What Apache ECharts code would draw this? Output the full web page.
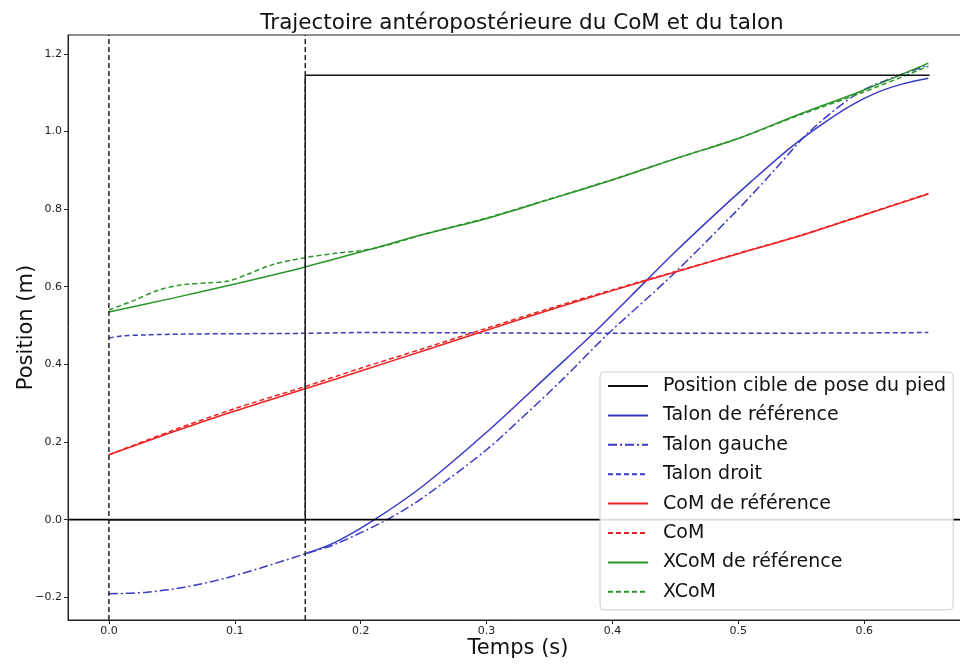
<!DOCTYPE html>
<html>
<head>
<meta charset="utf-8">
<script src="https://cdn.jsdelivr.net/npm/echarts@6/dist/echarts.min.js"></script>
<style>html,body{margin:0;padding:0;background:#fff;overflow:hidden;}#c{width:960px;height:665px;}</style>
</head>
<body>
<div id="c"></div>
<script>
// ---- data ----
const xTicks = [0, 0.1, 0.2, 0.3, 0.4, 0.5, 0.6];
const yTicks = [-0.2, 0, 0.2, 0.4, 0.6, 0.8, 1.0, 1.2];
const xRange = [-0.0325, 0.6825];
const yRange = [-0.2585, 1.2485];
const phaseTimes = [0, 0.156];

const tTarget = [0, 0.156, 0.156, 0.652];
const posTarget = [0, 0, 1.145, 1.145];

const tHeelRef = [0.156, 0.18, 0.211, 0.25, 0.3, 0.35, 0.385, 0.415, 0.45, 0.48, 0.51, 0.541, 0.565, 0.589, 0.61, 0.63, 0.651];
const heelRef = [-0.088, -0.058, 0.0, 0.088, 0.225, 0.375, 0.48, 0.577, 0.69, 0.782, 0.87, 0.957, 1.015, 1.066, 1.1, 1.122, 1.137];

const tHeelLeft = [0, 0.03, 0.06, 0.09, 0.12, 0.156, 0.18, 0.221, 0.25, 0.3, 0.329, 0.36, 0.397, 0.446, 0.5, 0.53, 0.556, 0.594, 0.62, 0.651];
const heelLeft = [-0.191, -0.187, -0.174, -0.153, -0.125, -0.088, -0.063, 0.0, 0.058, 0.18, 0.265, 0.36, 0.48, 0.625, 0.8, 0.905, 0.998, 1.097, 1.135, 1.171];

const tHeelRight = [0, 0.01, 0.03, 0.06, 0.1, 0.156, 0.2, 0.3, 0.4, 0.5, 0.6, 0.651];
const heelRight = [0.468, 0.473, 0.476, 0.478, 0.479, 0.480, 0.482, 0.481, 0.480, 0.480, 0.481, 0.482];

const tCom = [0, 0.05, 0.1, 0.156, 0.2, 0.25, 0.3, 0.35, 0.4, 0.45, 0.5, 0.55, 0.6, 0.651];
const comRef = [0.167, 0.225, 0.28, 0.337, 0.383, 0.435, 0.488, 0.54, 0.59, 0.638, 0.685, 0.732, 0.785, 0.839];
const com = [0.167, 0.229, 0.286, 0.343, 0.39, 0.441, 0.493, 0.544, 0.592, 0.639, 0.686, 0.733, 0.786, 0.84];

const tXcomRef = [0, 0.05, 0.1, 0.156, 0.215, 0.25, 0.3, 0.35, 0.4, 0.43, 0.454, 0.5, 0.549, 0.6, 0.651];
const xcomRef = [0.535, 0.57, 0.607, 0.651, 0.703, 0.735, 0.776, 0.825, 0.875, 0.908, 0.934, 0.982, 1.045, 1.107, 1.176];

const tXcom = [0, 0.02, 0.04, 0.06, 0.08, 0.095, 0.11, 0.13, 0.156, 0.18, 0.2, 0.22, 0.25, 0.3, 0.35, 0.4, 0.45, 0.5, 0.55, 0.6, 0.651];
const xcom = [0.54, 0.565, 0.592, 0.606, 0.61, 0.615, 0.632, 0.657, 0.675, 0.686, 0.693, 0.706, 0.735, 0.777, 0.826, 0.876, 0.93, 0.982, 1.044, 1.102, 1.168];

const names = ['Position cible de pose du pied', 'Talon de référence', 'Talon gauche', 'Talon droit',
               'CoM de référence', 'CoM', 'XCoM de référence', 'XCoM'];

// ---- chart ----
const BLUE = '#3a3ac4', RED = '#ee2222', GREEN = '#2a952a', BLACK = '#111111';
const zip = (a, b) => a.map((v, i) => [v, b[i]]);
const FONT = 'DejaVu Sans';

function line(name, t, v, color, type, smooth, z) {
  return {
    name, type: 'line', data: zip(t, v), showSymbol: false, symbol: 'none',
    smooth: smooth, z: z || 2,
    lineStyle: { color, width: 1.5, type },
    itemStyle: { color }
  };
}

const series = [
  // vertical phase markers (dashed black, full height) and horizontal zero line
  ...phaseTimes.map(p => ({
    type: 'line', data: [[p, yRange[0]], [p, yRange[1]]], showSymbol: false, symbol: 'none',
    silent: true, z: 4, lineStyle: { color: '#222', width: 1.5, type: [5, 3] }
  })),
  {
    type: 'line', data: [[xRange[0], 0], [xRange[1], 0]], showSymbol: false, symbol: 'none',
    silent: true, z: 3, lineStyle: { color: '#000', width: 1.6 }
  },
  line(names[0], tTarget, posTarget, BLACK, 'solid', false, 3),
  line(names[1], tHeelRef, heelRef, BLUE, 'solid', 0.3),
  line(names[2], tHeelLeft, heelLeft, BLUE, [9, 3, 2, 3], 0.3),
  line(names[3], tHeelRight, heelRight, BLUE, [5, 3], 0.3),
  line(names[4], tCom, comRef, RED, 'solid', 0.3),
  line(names[5], tCom, com, RED, [5, 3], 0.3),
  line(names[6], tXcomRef, xcomRef, GREEN, 'solid', 0.3),
  line(names[7], tXcom, xcom, GREEN, [5, 3], 0.3)
];

const chart = echarts.init(document.getElementById('c'), null, { renderer: 'canvas' });
chart.setOption({
  backgroundColor: '#ffffff',
  animation: false,
  textStyle: { fontFamily: FONT },
  title: {
    text: 'Trajectoire antéropostérieure du CoM et du talon',
    left: 517, top: 7, textAlign: 'center',
    textStyle: { fontFamily: FONT, fontSize: 21.5, fontWeight: 'normal', color: '#111' }
  },
  grid: { left: 68, width: 900, top: 35, bottom: 45, outerBoundsMode: 'none', containLabel: false,
          show: true, borderColor: '#222', borderWidth: 1, backgroundColor: 'transparent' },
  legend: {
    data: names, orient: 'vertical', left: 600, top: 372,
    padding: [3, 7, 7, 7], itemGap: 7.4, itemWidth: 40, itemHeight: 14,
    backgroundColor: 'rgba(255,255,255,0.85)', borderColor: '#cccccc', borderWidth: 1, borderRadius: 4,
    itemStyle: { opacity: 0 },
    textStyle: { fontFamily: FONT, fontSize: 19, color: '#111', lineHeight: 22, padding: [0, 0, 0, 10] }
  },
  xAxis: {
    type: 'value', min: xRange[0], max: xRange[1],
    name: 'Temps (s)', nameLocation: 'middle', nameGap: 18, nameMoveOverlap: false,
    nameTextStyle: { fontFamily: FONT, fontSize: 21, color: '#111' },
    axisLine: { show: true, onZero: false, lineStyle: { color: '#222', width: 1 } },
    axisTick: { show: true, length: 4, customValues: xTicks, lineStyle: { color: '#222' } },
    axisLabel: { customValues: xTicks, fontFamily: FONT, fontSize: 11, color: '#222', margin: 6,
      formatter: v => v.toFixed(1) },
    splitLine: { show: false }
  },
  yAxis: {
    type: 'value', min: yRange[0], max: yRange[1],
    name: 'Position (m)', nameLocation: 'middle', nameGap: 31, nameMoveOverlap: false,
    nameTextStyle: { fontFamily: FONT, fontSize: 21, color: '#111' },
    axisLine: { show: true, onZero: false, lineStyle: { color: '#222', width: 1 } },
    axisTick: { show: true, length: 4, customValues: yTicks, lineStyle: { color: '#222' } },
    axisLabel: { customValues: yTicks, fontFamily: FONT, fontSize: 11, color: '#222', margin: 6,
      formatter: v => v.toFixed(1).replace('-', '\u2212') },
    splitLine: { show: false }
  },
  series
});
</script>
</body>
</html>
